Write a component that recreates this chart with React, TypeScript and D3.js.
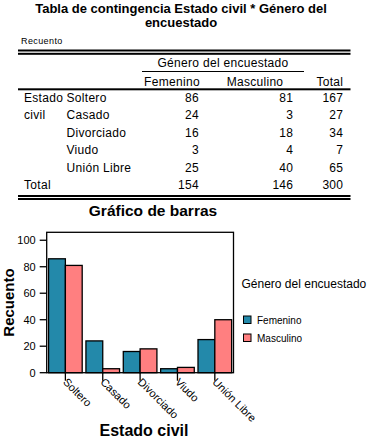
import React from "react";
import * as d3 from "d3";

const categories = ["Soltero", "Casado", "Divorciado", "Viudo", "Unión Libre"];
const seriesNames = ["Femenino", "Masculino"];
const femenino = [86, 24, 16, 3, 25];
const masculino = [81, 3, 18, 4, 40];
const totals = [167, 27, 34, 7, 65];
const totalRow = [154, 146, 300];
const yTicks = [0, 20, 40, 60, 80, 100];

const colors = ["#2389AA", "#FF7F80"];
const font = "Arial, 'Liberation Sans', sans-serif";

export default function App() {
  const W = 374, H = 438;
  // chart geometry
  const left = 46.7, right = 233.5, top = 232.3, bottom = 372.7;
  const x = d3.scaleBand<string>().domain(categories).range([left, right]).paddingInner(0.1).paddingOuter(0.05);
  const xs = d3.scaleBand<string>().domain(seriesNames).range([0, x.bandwidth()]);
  const y = d3.scaleLinear().domain([0, 106]).range([bottom, top]);
  const series = [femenino, masculino];

  // table geometry
  const rowY = d3.scaleLinear().domain([0, 1]).range([101.5, 119]);
  const colFem = 199, colMas = 293.3, colTot = 343.3;
  const tStyle = { fontFamily: font, fontSize: 12, letterSpacing: 0.3, fill: "#000" } as const;

  return (
    <svg width={W} height={H} style={{ position: "absolute", left: 0, top: 0, background: "#fff" }}>
      {/* Table title */}
      <text x={181} y={13} textAnchor="middle" fontFamily={font} fontWeight="bold" fontSize={13}>
        Tabla de contingencia Estado civil * Género del
      </text>
      <text x={181} y={27} textAnchor="middle" fontFamily={font} fontWeight="bold" fontSize={13}>
        encuestado
      </text>
      <text x={21} y={44} fontFamily={font} fontSize={9} letterSpacing={0.4}>Recuento</text>
      <rect x={18} y={49.5} width={332.5} height={2} fill="#000" />
      <rect x={18} y={52.8} width={332.5} height={2} fill="#000" />
      <text x={223} y={66.5} textAnchor="middle" {...tStyle}>Género del encuestado</text>
      <rect x={142} y={71} width={162} height={1} fill="#000" />
      <text x={172} y={86} textAnchor="middle" {...tStyle}>Femenino</text>
      <text x={255} y={86} textAnchor="middle" {...tStyle}>Masculino</text>
      <text x={colTot} y={86} textAnchor="end" {...tStyle}>Total</text>
      <rect x={18} y={88.3} width={332.5} height={2} fill="#000" />
      <text x={24} y={rowY(0)} {...tStyle}>Estado</text>
      <text x={24} y={rowY(1)} {...tStyle}>civil</text>
      {categories.map((c, i) => (
        <g key={c}>
          <text x={66.5} y={rowY(i)} {...tStyle}>{c}</text>
          <text x={colFem} y={rowY(i)} textAnchor="end" {...tStyle}>{femenino[i]}</text>
          <text x={colMas} y={rowY(i)} textAnchor="end" {...tStyle}>{masculino[i]}</text>
          <text x={colTot} y={rowY(i)} textAnchor="end" {...tStyle}>{totals[i]}</text>
        </g>
      ))}
      <text x={24} y={rowY(5)} {...tStyle}>Total</text>
      {[colFem, colMas, colTot].map((cx, i) => (
        <text key={i} x={cx} y={rowY(5)} textAnchor="end" {...tStyle}>{totalRow[i]}</text>
      ))}
      <rect x={18} y={195} width={332.5} height={2} fill="#000" />
      <rect x={18} y={198} width={332.5} height={2} fill="#000" />

      {/* Chart title */}
      <text x={153} y={216} textAnchor="middle" fontFamily={font} fontWeight="bold" fontSize={15.5}>
        Gráfico de barras
      </text>

      {/* Bars */}
      {categories.map((c, i) => (
        <g key={c}>
          {series.map((s, j) => (
            <rect
              key={j}
              x={(x(c) as number) + (xs(seriesNames[j]) as number)}
              y={y(s[i])}
              width={xs.bandwidth()}
              height={bottom - y(s[i])}
              fill={colors[j]}
              stroke="#000"
              strokeWidth={1.3}
            />
          ))}
        </g>
      ))}

      {/* Frame */}
      <rect x={left} y={top} width={right - left} height={bottom - top} fill="none" stroke="#000" strokeWidth={1.3} />

      {/* Y axis */}
      {yTicks.map((t) => (
        <g key={t}>
          <line x1={left - 7} x2={left} y1={y(t)} y2={y(t)} stroke="#000" strokeWidth={1.3} />
          <text x={left - 11} y={y(t) + 4} textAnchor="end" fontFamily={font} fontSize={11}>{t}</text>
        </g>
      ))}
      <text
        transform={`translate(14, 302.5) rotate(-90)`}
        textAnchor="middle"
        fontFamily={font}
        fontWeight="bold"
        fontSize={15}
      >
        Recuento
      </text>

      {/* X axis */}
      {categories.map((c) => {
        const cx = (x(c) as number) + x.bandwidth() / 2;
        return (
          <g key={c}>
            <line x1={cx} x2={cx} y1={bottom} y2={bottom + 8} stroke="#000" strokeWidth={1.3} />
            <text
              transform={`translate(${cx - 3}, ${bottom + 10}) rotate(45)`}
              fontFamily={font}
              fontSize={11}
            >
              {c}
            </text>
          </g>
        );
      })}
      <text x={144} y={436} textAnchor="middle" fontFamily={font} fontWeight="bold" fontSize={16}>
        Estado civil
      </text>

      {/* Legend */}
      <text x={241.5} y={288} fontFamily={font} fontSize={12}>Género del encuestado</text>
      {seriesNames.map((n, j) => (
        <g key={n}>
          <rect x={243.5} y={316 + j * 18} width={7.5} height={7.5} fill={colors[j]} stroke="#000" strokeWidth={1} />
          <text x={257} y={323.5 + j * 18} fontFamily={font} fontSize={10}>{n}</text>
        </g>
      ))}
    </svg>
  );
}
